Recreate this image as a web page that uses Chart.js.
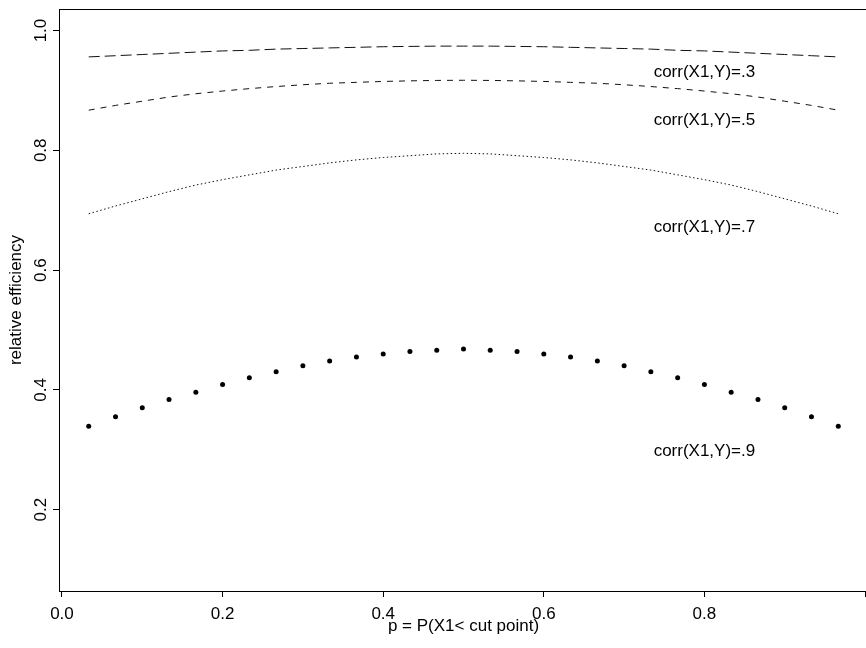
<!DOCTYPE html>
<html>
<head>
<meta charset="utf-8">
<script src="https://cdn.jsdelivr.net/npm/chart.js@4.4.0/dist/chart.umd.min.js"></script>
<style>
  html, body { margin: 0; padding: 0; background: #fff; overflow: hidden; }
  #wrap { width: 872px; height: 648px; }
</style>
</head>
<body>
<div id="wrap"><canvas id="chart" width="872" height="648"></canvas></div>
<script>
// cut point proportions (x)
const pValues = [0.0333, 0.0667, 0.1, 0.1333, 0.1667, 0.2, 0.2333, 0.2667, 0.3, 0.3333,
                 0.3667, 0.4, 0.4333, 0.4667, 0.5, 0.5333, 0.5667, 0.6, 0.6333, 0.6667,
                 0.7, 0.7333, 0.7667, 0.8, 0.8333, 0.8667, 0.9, 0.9333, 0.9667];

// relative efficiency for each correlation
const corr3 = [0.956, 0.958, 0.960, 0.962, 0.964, 0.966, 0.967, 0.969, 0.970, 0.971,
               0.972, 0.973, 0.9735, 0.974, 0.974, 0.974, 0.9735, 0.973, 0.972, 0.971,
               0.970, 0.969, 0.967, 0.966, 0.964, 0.962, 0.960, 0.958, 0.956];
const corr5 = [0.867, 0.875, 0.882, 0.889, 0.8945, 0.899, 0.903, 0.9065, 0.9095, 0.912,
               0.9135, 0.915, 0.916, 0.9167, 0.917, 0.9167, 0.916, 0.915, 0.9135, 0.912,
               0.9095, 0.9065, 0.903, 0.899, 0.8945, 0.889, 0.882, 0.875, 0.867];
const corr7 = [0.694, 0.707, 0.719, 0.731, 0.742, 0.751, 0.759, 0.767, 0.773, 0.779,
               0.784, 0.788, 0.791, 0.794, 0.795, 0.794, 0.791, 0.788, 0.784, 0.779,
               0.773, 0.767, 0.759, 0.751, 0.742, 0.731, 0.719, 0.707, 0.694];
const corr9 = [0.339, 0.355, 0.370, 0.384, 0.396, 0.409, 0.420, 0.430, 0.440, 0.448,
               0.455, 0.460, 0.464, 0.466, 0.468, 0.466, 0.464, 0.460, 0.455, 0.448,
               0.440, 0.430, 0.420, 0.409, 0.396, 0.384, 0.370, 0.355, 0.339];

// text annotations
const labelTexts = ['corr(X1,Y)=.3', 'corr(X1,Y)=.5', 'corr(X1,Y)=.7', 'corr(X1,Y)=.9'];
const labelX = [0.8, 0.8, 0.8, 0.8];
const labelY = [0.93, 0.85, 0.672, 0.297];

// axis ticks (the 1.0 label falls off the right edge in the original)
const xTicks = [0, 0.2, 0.4, 0.6, 0.8, 1.0];
const xTickLabels = ['0.0', '0.2', '0.4', '0.6', '0.8', ''];
const yTicks = [0.2, 0.4, 0.6, 0.8, 1.0];
const yTickLabels = ['0.2', '0.4', '0.6', '0.8', '1.0'];

const FONT = '"Liberation Sans", Arial, Helvetica, sans-serif';
const INK = '#000';

function toPoints(ys) {
    return pValues.map((p, i) => ({ x: p, y: ys[i] }));
}

// box around the plot region, like R's box()
const boxPlugin = {
    id: 'box',
    afterDraw(chart) {
        const { ctx, chartArea: a } = chart;
        ctx.save();
        ctx.strokeStyle = INK;
        ctx.lineWidth = 1;
        ctx.strokeRect(Math.round(a.left) + 0.5, Math.round(a.top) + 0.5,
                       Math.round(a.right - a.left), Math.round(a.bottom - a.top));
        ctx.restore();
    }
};

// curve labels placed in data coordinates
const textPlugin = {
    id: 'curveText',
    afterDatasetsDraw(chart) {
        const { ctx, scales } = chart;
        ctx.save();
        ctx.fillStyle = INK;
        ctx.font = '17px ' + FONT;
        ctx.textAlign = 'center';
        ctx.textBaseline = 'middle';
        labelTexts.forEach((t, i) => {
            ctx.fillText(t, scales.x.getPixelForValue(labelX[i]), scales.y.getPixelForValue(labelY[i]));
        });
        ctx.restore();
    }
};

const lineStyle = (data, dash) => ({
    data: toPoints(data),
    showLine: true,
    borderColor: '#111',
    borderWidth: 1,
    borderDash: dash,
    pointRadius: 0,
    tension: 0,
    fill: false
});

new Chart(document.getElementById('chart'), {
    type: 'scatter',
    data: {
        datasets: [
            lineStyle(corr3, [11, 5]),
            lineStyle(corr5, [6, 6]),
            lineStyle(corr7, [1.5, 2.5]),
            {
                data: toPoints(corr9),
                showLine: false,
                pointRadius: 2.5,
                pointBackgroundColor: INK,
                pointBorderWidth: 0
            }
        ]
    },
    options: {
        responsive: false,
        animation: false,
        layout: { padding: { top: 9, right: 3, left: 0, bottom: 0 } },
        plugins: {
            legend: { display: false },
            tooltip: { enabled: false }
        },
        scales: {
            x: {
                type: 'linear',
                min: -0.0037,
                max: 1.0037,
                afterBuildTicks: (scale) => { scale.ticks = xTicks.map(v => ({ value: v })); },
                afterFit: (scale) => {
                    scale.height = 57;
                    scale.paddingLeft = 0;
                    scale.paddingRight = 0;
                },
                border: { display: false },
                grid: { drawOnChartArea: false, drawTicks: true, tickLength: 6, color: INK, tickColor: INK },
                ticks: {
                    color: INK,
                    font: { family: FONT, size: 17 },
                    padding: 7,
                    maxRotation: 0,
                    autoSkip: false,
                    callback: (v, i) => xTickLabels[i]
                },
                title: {
                    display: true,
                    text: 'p = P(X1< cut point)',
                    color: INK,
                    font: { family: FONT, size: 17 },
                    padding: { top: 0, bottom: 11 }
                }
            },
            y: {
                type: 'linear',
                min: 0.064,
                max: 1.036,
                afterBuildTicks: (scale) => { scale.ticks = yTicks.map(v => ({ value: v })); },
                afterFit: (scale) => {
                    scale.width = 59;
                    scale.paddingTop = 0;
                    scale.paddingBottom = 0;
                },
                border: { display: false },
                grid: { drawOnChartArea: false, drawTicks: true, tickLength: 6, color: INK, tickColor: INK },
                ticks: {
                    color: INK,
                    font: { family: FONT, size: 17 },
                    padding: 0,
                    minRotation: 90,
                    maxRotation: 90,
                    crossAlign: 'center',
                    autoSkip: false,
                    callback: (v, i) => yTickLabels[i]
                },
                title: {
                    display: true,
                    text: 'relative efficiency',
                    color: INK,
                    font: { family: FONT, size: 17 },
                    padding: { top: 6, bottom: 0 }
                }
            }
        }
    },
    plugins: [boxPlugin, textPlugin]
});
</script>
</body>
</html>
